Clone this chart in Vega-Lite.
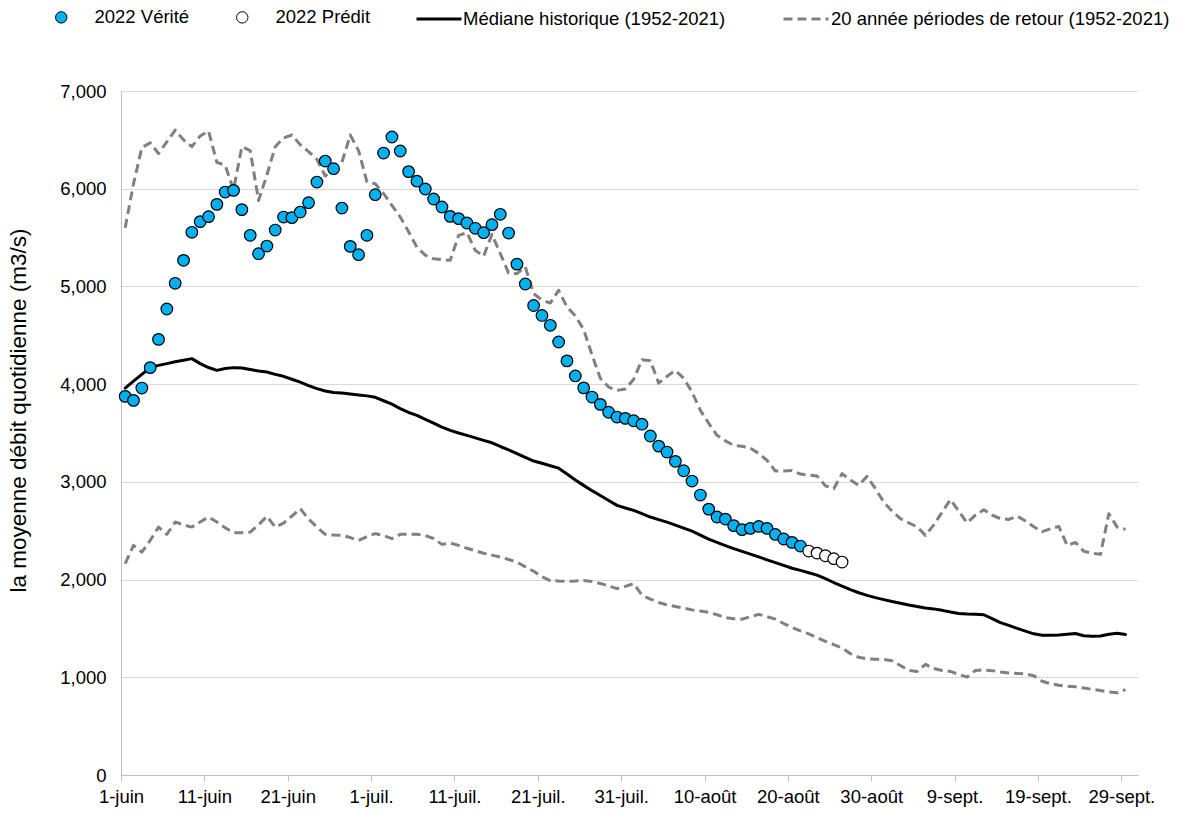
{
  "$schema": "https://vega.github.io/schema/vega-lite/v6.json",
  "width": 1017,
  "height": 684,
  "autosize": {"type": "none"},
  "padding": {"left": 121, "top": 91, "right": 59, "bottom": 39},
  "config": {
    "view": {"stroke": null},
    "font": "Liberation Sans",
    "axis": {"labelFont": "Liberation Sans", "labelFontSize": 18.5, "labelColor": "#000000", "titleFont": "Liberation Sans", "titleFontWeight": "normal", "titleColor": "#000000"},
    "legend": {"labelFont": "Liberation Sans", "labelFontSize": 18.5, "labelColor": "#000000", "labelLimit": 0, "title": null, "orient": "none", "direction": "horizontal"}
  },
  "datasets": {
    "verite": [
      {"j":1,"v":3875},{"j":2,"v":3834},{"j":3,"v":3960},{"j":4,"v":4169},{"j":5,"v":4458},{"j":6,"v":4769},{"j":7,"v":5032},{"j":8,"v":5267},{"j":9,"v":5554},{"j":10,"v":5663},
      {"j":11,"v":5714},{"j":12,"v":5840},{"j":13,"v":5966},{"j":14,"v":5983},{"j":15,"v":5786},{"j":16,"v":5523},{"j":17,"v":5335},{"j":18,"v":5413},{"j":19,"v":5577},{"j":20,"v":5710},
      {"j":21,"v":5704},{"j":22,"v":5761},{"j":23,"v":5857},{"j":24,"v":6068},{"j":25,"v":6283},{"j":26,"v":6205},{"j":27,"v":5802},{"j":28,"v":5410},{"j":29,"v":5325},{"j":30,"v":5523},
      {"j":31,"v":5939},{"j":32,"v":6365},{"j":33,"v":6529},{"j":34,"v":6386},{"j":35,"v":6175},{"j":36,"v":6077},{"j":37,"v":5997},{"j":38,"v":5895},{"j":39,"v":5813},{"j":40,"v":5717},
      {"j":41,"v":5694},{"j":42,"v":5649},{"j":43,"v":5595},{"j":44,"v":5550},{"j":45,"v":5632},{"j":46,"v":5738},{"j":47,"v":5546},{"j":48,"v":5228},{"j":49,"v":5025},{"j":50,"v":4805},
      {"j":51,"v":4703},{"j":52,"v":4602},{"j":53,"v":4431},{"j":54,"v":4238},{"j":55,"v":4084},{"j":56,"v":3962},{"j":57,"v":3868},{"j":58,"v":3793},{"j":59,"v":3712},{"j":60,"v":3663},
      {"j":61,"v":3650},{"j":62,"v":3625},{"j":63,"v":3590},{"j":64,"v":3469},{"j":65,"v":3366},{"j":66,"v":3305},{"j":67,"v":3210},{"j":68,"v":3114},{"j":69,"v":3008},{"j":70,"v":2865},
      {"j":71,"v":2721},{"j":72,"v":2640},{"j":73,"v":2619},{"j":74,"v":2552},{"j":75,"v":2511},{"j":76,"v":2524},{"j":77,"v":2544},{"j":78,"v":2524},{"j":79,"v":2462},{"j":80,"v":2415},
      {"j":81,"v":2381},{"j":82,"v":2343}
    ],
    "predit": [
      {"j":83,"v":2292},{"j":84,"v":2271},{"j":85,"v":2244},{"j":86,"v":2214},{"j":87,"v":2179}
    ],
    "mediane": [
      {"j":1,"v":3960},{"j":2,"v":4030},{"j":3,"v":4100},{"j":4,"v":4169},{"j":5,"v":4192},{"j":6,"v":4210},{"j":7,"v":4230},{"j":8,"v":4245},{"j":9,"v":4261},{"j":10,"v":4210},
      {"j":11,"v":4170},{"j":12,"v":4141},{"j":13,"v":4160},{"j":14,"v":4169},{"j":15,"v":4165},{"j":16,"v":4150},{"j":17,"v":4135},{"j":18,"v":4124},{"j":19,"v":4100},{"j":20,"v":4080},
      {"j":21,"v":4050},{"j":22,"v":4021},{"j":23,"v":3985},{"j":24,"v":3954},{"j":25,"v":3930},{"j":26,"v":3915},{"j":27,"v":3910},{"j":28,"v":3900},{"j":29,"v":3890},{"j":30,"v":3880},
      {"j":31,"v":3865},{"j":32,"v":3830},{"j":33,"v":3795},{"j":34,"v":3750},{"j":35,"v":3710},{"j":36,"v":3680},{"j":37,"v":3640},{"j":38,"v":3600},{"j":39,"v":3560},{"j":40,"v":3527},
      {"j":41,"v":3500},{"j":42,"v":3476},{"j":43,"v":3450},{"j":44,"v":3425},{"j":45,"v":3400},{"j":46,"v":3362},{"j":47,"v":3328},{"j":48,"v":3290},{"j":49,"v":3250},{"j":50,"v":3213},
      {"j":51,"v":3190},{"j":52,"v":3165},{"j":53,"v":3140},{"j":54,"v":3080},{"j":55,"v":3020},{"j":56,"v":2964},{"j":57,"v":2910},{"j":58,"v":2860},{"j":59,"v":2810},{"j":60,"v":2759},
      {"j":61,"v":2733},{"j":62,"v":2708},{"j":63,"v":2675},{"j":64,"v":2640},{"j":65,"v":2614},{"j":66,"v":2588},{"j":67,"v":2558},{"j":68,"v":2527},{"j":69,"v":2495},{"j":70,"v":2455},
      {"j":71,"v":2415},{"j":72,"v":2380},{"j":73,"v":2348},{"j":74,"v":2316},{"j":75,"v":2288},{"j":76,"v":2260},{"j":77,"v":2232},{"j":78,"v":2202},{"j":79,"v":2173},{"j":80,"v":2145},
      {"j":81,"v":2116},{"j":82,"v":2094},{"j":83,"v":2070},{"j":84,"v":2045},{"j":85,"v":2010},{"j":86,"v":1970},{"j":87,"v":1933},{"j":88,"v":1897},{"j":89,"v":1865},{"j":90,"v":1838},
      {"j":91,"v":1815},{"j":92,"v":1795},{"j":93,"v":1775},{"j":94,"v":1757},{"j":95,"v":1740},{"j":96,"v":1725},{"j":97,"v":1710},{"j":98,"v":1700},{"j":99,"v":1685},{"j":100,"v":1668},
      {"j":101,"v":1653},{"j":102,"v":1648},{"j":103,"v":1645},{"j":104,"v":1640},{"j":105,"v":1600},{"j":106,"v":1560},{"j":107,"v":1532},{"j":108,"v":1500},{"j":109,"v":1473},{"j":110,"v":1445},
      {"j":111,"v":1430},{"j":112,"v":1429},{"j":113,"v":1432},{"j":114,"v":1440},{"j":115,"v":1448},{"j":116,"v":1425},{"j":117,"v":1420},{"j":118,"v":1422},{"j":119,"v":1440},{"j":120,"v":1450},
      {"j":121,"v":1438}
    ],
    "retour": [
      {"c":"haut","j":1,"v":5600},{"c":"haut","j":2,"v":6050},{"c":"haut","j":3,"v":6420},{"c":"haut","j":4,"v":6470},{"c":"haut","j":5,"v":6360},{"c":"haut","j":6,"v":6480},{"c":"haut","j":7,"v":6600},{"c":"haut","j":8,"v":6500},{"c":"haut","j":9,"v":6430},{"c":"haut","j":10,"v":6540},
      {"c":"haut","j":11,"v":6590},{"c":"haut","j":12,"v":6270},{"c":"haut","j":13,"v":6240},{"c":"haut","j":14,"v":5990},{"c":"haut","j":15,"v":6430},{"c":"haut","j":16,"v":6390},{"c":"haut","j":17,"v":5880},{"c":"haut","j":18,"v":6140},{"c":"haut","j":19,"v":6430},{"c":"haut","j":20,"v":6520},
      {"c":"haut","j":21,"v":6550},{"c":"haut","j":22,"v":6450},{"c":"haut","j":23,"v":6380},{"c":"haut","j":24,"v":6300},{"c":"haut","j":25,"v":6130},{"c":"haut","j":26,"v":6200},{"c":"haut","j":27,"v":6270},{"c":"haut","j":28,"v":6550},{"c":"haut","j":29,"v":6390},{"c":"haut","j":30,"v":6070},
      {"c":"haut","j":31,"v":6050},{"c":"haut","j":32,"v":5950},{"c":"haut","j":33,"v":5830},{"c":"haut","j":34,"v":5710},{"c":"haut","j":35,"v":5560},{"c":"haut","j":36,"v":5400},{"c":"haut","j":37,"v":5320},{"c":"haut","j":38,"v":5284},{"c":"haut","j":39,"v":5275},{"c":"haut","j":40,"v":5267},
      {"c":"haut","j":41,"v":5523},{"c":"haut","j":42,"v":5550},{"c":"haut","j":43,"v":5369},{"c":"haut","j":44,"v":5310},{"c":"haut","j":45,"v":5533},{"c":"haut","j":46,"v":5336},{"c":"haut","j":47,"v":5137},{"c":"haut","j":48,"v":5131},{"c":"haut","j":49,"v":5200},{"c":"haut","j":50,"v":4926},
      {"c":"haut","j":51,"v":4860},{"c":"haut","j":52,"v":4830},{"c":"haut","j":53,"v":4960},{"c":"haut","j":54,"v":4790},{"c":"haut","j":55,"v":4700},{"c":"haut","j":56,"v":4560},{"c":"haut","j":57,"v":4300},{"c":"haut","j":58,"v":4060},{"c":"haut","j":59,"v":3970},{"c":"haut","j":60,"v":3936},
      {"c":"haut","j":61,"v":3950},{"c":"haut","j":62,"v":4050},{"c":"haut","j":63,"v":4250},{"c":"haut","j":64,"v":4240},{"c":"haut","j":65,"v":4010},{"c":"haut","j":66,"v":4080},{"c":"haut","j":67,"v":4140},{"c":"haut","j":68,"v":4060},{"c":"haut","j":69,"v":3920},{"c":"haut","j":70,"v":3732},
      {"c":"haut","j":71,"v":3600},{"c":"haut","j":72,"v":3476},{"c":"haut","j":73,"v":3420},{"c":"haut","j":74,"v":3373},{"c":"haut","j":75,"v":3365},{"c":"haut","j":76,"v":3345},{"c":"haut","j":77,"v":3290},{"c":"haut","j":78,"v":3220},{"c":"haut","j":79,"v":3110},{"c":"haut","j":80,"v":3110},
      {"c":"haut","j":81,"v":3115},{"c":"haut","j":82,"v":3080},{"c":"haut","j":83,"v":3070},{"c":"haut","j":84,"v":3060},{"c":"haut","j":85,"v":2960},{"c":"haut","j":86,"v":2930},{"c":"haut","j":87,"v":3084},{"c":"haut","j":88,"v":3020},{"c":"haut","j":89,"v":2964},{"c":"haut","j":90,"v":3056},
      {"c":"haut","j":91,"v":2930},{"c":"haut","j":92,"v":2793},{"c":"haut","j":93,"v":2700},{"c":"haut","j":94,"v":2623},{"c":"haut","j":95,"v":2580},{"c":"haut","j":96,"v":2540},{"c":"haut","j":97,"v":2452},{"c":"haut","j":98,"v":2560},{"c":"haut","j":99,"v":2690},{"c":"haut","j":100,"v":2818},
      {"c":"haut","j":101,"v":2700},{"c":"haut","j":102,"v":2580},{"c":"haut","j":103,"v":2660},{"c":"haut","j":104,"v":2715},{"c":"haut","j":105,"v":2660},{"c":"haut","j":106,"v":2623},{"c":"haut","j":107,"v":2615},{"c":"haut","j":108,"v":2650},{"c":"haut","j":109,"v":2600},{"c":"haut","j":110,"v":2540},
      {"c":"haut","j":111,"v":2490},{"c":"haut","j":112,"v":2520},{"c":"haut","j":113,"v":2544},{"c":"haut","j":114,"v":2350},{"c":"haut","j":115,"v":2380},{"c":"haut","j":116,"v":2290},{"c":"haut","j":117,"v":2270},{"c":"haut","j":118,"v":2258},{"c":"haut","j":119,"v":2674},{"c":"haut","j":120,"v":2537},
      {"c":"haut","j":121,"v":2514},
      {"c":"bas","j":1,"v":2163},{"c":"bas","j":2,"v":2350},{"c":"bas","j":3,"v":2281},{"c":"bas","j":4,"v":2400},{"c":"bas","j":5,"v":2537},{"c":"bas","j":6,"v":2463},{"c":"bas","j":7,"v":2589},{"c":"bas","j":8,"v":2560},{"c":"bas","j":9,"v":2537},{"c":"bas","j":10,"v":2590},
      {"c":"bas","j":11,"v":2640},{"c":"bas","j":12,"v":2589},{"c":"bas","j":13,"v":2530},{"c":"bas","j":14,"v":2480},{"c":"bas","j":15,"v":2480},{"c":"bas","j":16,"v":2486},{"c":"bas","j":17,"v":2560},{"c":"bas","j":18,"v":2647},{"c":"bas","j":19,"v":2537},{"c":"bas","j":20,"v":2578},
      {"c":"bas","j":21,"v":2650},{"c":"bas","j":22,"v":2726},{"c":"bas","j":23,"v":2620},{"c":"bas","j":24,"v":2537},{"c":"bas","j":25,"v":2463},{"c":"bas","j":26,"v":2455},{"c":"bas","j":27,"v":2452},{"c":"bas","j":28,"v":2430},{"c":"bas","j":29,"v":2401},{"c":"bas","j":30,"v":2440},
      {"c":"bas","j":31,"v":2470},{"c":"bas","j":32,"v":2450},{"c":"bas","j":33,"v":2419},{"c":"bas","j":34,"v":2463},{"c":"bas","j":35,"v":2463},{"c":"bas","j":36,"v":2463},{"c":"bas","j":37,"v":2450},{"c":"bas","j":38,"v":2420},{"c":"bas","j":39,"v":2360},{"c":"bas","j":40,"v":2374},
      {"c":"bas","j":41,"v":2350},{"c":"bas","j":42,"v":2320},{"c":"bas","j":43,"v":2295},{"c":"bas","j":44,"v":2270},{"c":"bas","j":45,"v":2250},{"c":"bas","j":46,"v":2230},{"c":"bas","j":47,"v":2205},{"c":"bas","j":48,"v":2180},{"c":"bas","j":49,"v":2130},{"c":"bas","j":50,"v":2085},
      {"c":"bas","j":51,"v":2030},{"c":"bas","j":52,"v":1990},{"c":"bas","j":53,"v":1985},{"c":"bas","j":54,"v":1982},{"c":"bas","j":55,"v":1985},{"c":"bas","j":56,"v":1990},{"c":"bas","j":57,"v":1980},{"c":"bas","j":58,"v":1960},{"c":"bas","j":59,"v":1935},{"c":"bas","j":60,"v":1907},
      {"c":"bas","j":61,"v":1930},{"c":"bas","j":62,"v":1958},{"c":"bas","j":63,"v":1840},{"c":"bas","j":64,"v":1800},{"c":"bas","j":65,"v":1765},{"c":"bas","j":66,"v":1740},{"c":"bas","j":67,"v":1725},{"c":"bas","j":68,"v":1708},{"c":"bas","j":69,"v":1690},{"c":"bas","j":70,"v":1678},
      {"c":"bas","j":71,"v":1665},{"c":"bas","j":72,"v":1640},{"c":"bas","j":73,"v":1610},{"c":"bas","j":74,"v":1600},{"c":"bas","j":75,"v":1595},{"c":"bas","j":76,"v":1620},{"c":"bas","j":77,"v":1644},{"c":"bas","j":78,"v":1620},{"c":"bas","j":79,"v":1595},{"c":"bas","j":80,"v":1550},
      {"c":"bas","j":81,"v":1510},{"c":"bas","j":82,"v":1475},{"c":"bas","j":83,"v":1445},{"c":"bas","j":84,"v":1405},{"c":"bas","j":85,"v":1368},{"c":"bas","j":86,"v":1335},{"c":"bas","j":87,"v":1300},{"c":"bas","j":88,"v":1241},{"c":"bas","j":89,"v":1205},{"c":"bas","j":90,"v":1188},
      {"c":"bas","j":91,"v":1185},{"c":"bas","j":92,"v":1183},{"c":"bas","j":93,"v":1170},{"c":"bas","j":94,"v":1120},{"c":"bas","j":95,"v":1070},{"c":"bas","j":96,"v":1060},{"c":"bas","j":97,"v":1132},{"c":"bas","j":98,"v":1090},{"c":"bas","j":99,"v":1070},{"c":"bas","j":100,"v":1060},
      {"c":"bas","j":101,"v":1030},{"c":"bas","j":102,"v":1002},{"c":"bas","j":103,"v":1070},{"c":"bas","j":104,"v":1075},{"c":"bas","j":105,"v":1068},{"c":"bas","j":106,"v":1055},{"c":"bas","j":107,"v":1043},{"c":"bas","j":108,"v":1040},{"c":"bas","j":109,"v":1035},{"c":"bas","j":110,"v":1015},
      {"c":"bas","j":111,"v":960},{"c":"bas","j":112,"v":935},{"c":"bas","j":113,"v":918},{"c":"bas","j":114,"v":910},{"c":"bas","j":115,"v":902},{"c":"bas","j":116,"v":890},{"c":"bas","j":117,"v":876},{"c":"bas","j":118,"v":865},{"c":"bas","j":119,"v":850},{"c":"bas","j":120,"v":842},
      {"c":"bas","j":121,"v":873}
    ]
  },
  "encoding": {
    "x": {
      "field": "j", "type": "quantitative",
      "scale": {"domain": [0.5, 122.5], "nice": false, "zero": false},
      "axis": {
        "title": null, "grid": false,
        "values": [0.5, 10.5, 20.5, 30.5, 40.5, 50.5, 60.5, 70.5, 80.5, 90.5, 100.5, 110.5, 120.5],
        "labelExpr": "['1-juin','11-juin','21-juin','1-juil.','11-juil.','21-juil.','31-juil.','10-août','20-août','30-août','9-sept.','19-sept.','29-sept.'][floor(datum.value/10)]",
        "domainColor": "#BFBFBF", "domainWidth": 1,
        "ticks": true, "tickColor": "#BFBFBF", "tickSize": 6, "tickWidth": 1,
        "labelPadding": 6, "labelFlush": false, "labelOverlap": false
      }
    },
    "y": {
      "field": "v", "type": "quantitative",
      "scale": {"domain": [0, 7000], "nice": false},
      "axis": {
        "title": "la moyenne débit quotidienne (m3/s)",
        "titleFontSize": 22.5,
        "titleX": -103, "titleY": 319, "titleBaseline": "middle", "titleAlign": "center", "titleAngle": -90,
        "values": [0, 1000, 2000, 3000, 4000, 5000, 6000, 7000],
        "format": ",.0f",
        "grid": true, "gridColor": "#D9D9D9", "gridWidth": 1,
        "domainColor": "#BFBFBF", "domainWidth": 1,
        "ticks": false, "labelPadding": 15
      }
    }
  },
  "layer": [
    {
      "data": {"name": "mediane"},
      "mark": {"type": "line", "strokeWidth": 3, "strokeCap": "round", "strokeJoin": "round"},
      "encoding": {
        "color": {
          "datum": "Médiane historique (1952-2021)", "type": "nominal",
          "scale": {"domain": ["Médiane historique (1952-2021)"], "range": ["#000000"]},
          "legend": {
            "legendX": 294, "legendY": -96,
            "symbolType": "stroke", "symbolSize": 2025, "symbolStrokeWidth": 3, "labelOffset": 0
          }
        }
      }
    },
    {
      "data": {"name": "retour"},
      "mark": {"type": "line", "color": "#808080", "strokeWidth": 3, "strokeJoin": "round"},
      "encoding": {
        "detail": {"field": "c", "type": "nominal"},
        "strokeDash": {
          "datum": "20 année périodes de retour (1952-2021)", "type": "nominal",
          "scale": {"domain": ["20 année périodes de retour (1952-2021)"], "range": [[9, 5]]},
          "legend": {
            "legendX": 661, "legendY": -96,
            "symbolType": "stroke", "symbolSize": 2025, "symbolStrokeWidth": 3, "symbolStrokeColor": "#808080", "labelOffset": 1
          }
        }
      }
    },
    {
      "data": {"name": "verite"},
      "mark": {"type": "point", "shape": "circle", "filled": true, "size": 135, "stroke": "#000000", "strokeWidth": 1.2, "opacity": 1},
      "encoding": {
        "fill": {
          "datum": "2022 Vérité", "type": "nominal",
          "scale": {"domain": ["2022 Vérité", "2022 Prédit"], "range": ["#00B0F0", "#FFFFFF"]},
          "legend": {
            "legendX": -69, "legendY": -83,
            "symbolType": "circle", "symbolSize": 130, "symbolStrokeColor": "#000000", "symbolStrokeWidth": 1,
            "labelOffset": 24, "columnPadding": 43
          }
        }
      }
    },
    {
      "data": {"name": "predit"},
      "mark": {"type": "point", "shape": "circle", "filled": true, "size": 135, "stroke": "#000000", "strokeWidth": 1.2, "opacity": 1},
      "encoding": {
        "fill": {"datum": "2022 Prédit", "type": "nominal"}
      }
    }
  ]
}
